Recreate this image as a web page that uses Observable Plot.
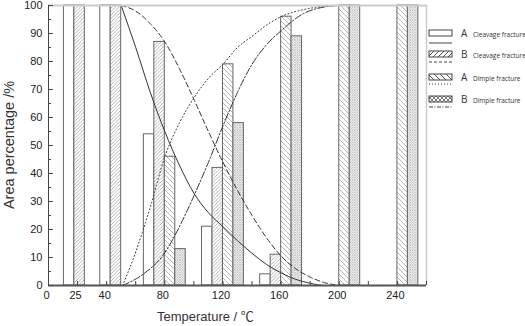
<!DOCTYPE html>
<html><head><meta charset="utf-8">
<script src="https://cdn.jsdelivr.net/npm/d3@7"></script>
<script src="https://cdn.jsdelivr.net/npm/@observablehq/plot@0.6"></script>
<style>body{margin:0;background:#fff;} svg{display:block;}</style>
</head><body><div id="chart"></div>
<script>
// ---- data ----
const temps = [25, 50, 80, 120, 160, 200, 240];
const cleavageA = [100, 100, 54, 21, 4, 0, 0];
const cleavageB = [100, 100, 87, 42, 11, 0, 0];
const dimpleA   = [0, 0, 46, 79, 96, 100, 100];
const dimpleB   = [0, 0, 13, 58, 89, 100, 100];

// fitted curves
const curveCleavageA_T = [50, 60, 70, 80, 90, 100, 110, 120, 130, 140, 150, 160, 170, 180, 190, 200];
const curveCleavageA_V = [100, 85, 69, 55, 43, 33, 26, 21, 16, 11.5, 7.5, 4.5, 2.2, 0.8, 0, 0];
const curveCleavageB_T = [50, 60, 70, 80, 90, 100, 110, 120, 130, 140, 150, 160, 170, 180, 190, 200];
const curveCleavageB_V = [100, 98, 93.5, 87, 77.5, 66.5, 55, 44, 34, 25, 17, 10.5, 6, 3, 1, 0];
const curveDimpleA_T = [51, 60, 70, 80, 90, 100, 110, 120, 130, 140, 150, 160, 175, 190, 200, 240];
const curveDimpleA_V = [0, 12, 28, 46, 58, 67, 74, 79, 85, 89, 93, 96, 98.5, 99.7, 100, 100];
const curveDimpleB_T = [51, 65, 79, 91, 100, 110, 120, 130, 140, 150, 160, 175, 190, 200];
const curveDimpleB_V = [0, 4, 11, 22, 32, 44, 57, 69, 79, 86, 91, 97, 99.5, 100];

const yTicks = [0, 10, 20, 30, 40, 50, 60, 70, 80, 90, 100];
const yMinorTicks = [5, 15, 25, 35, 45, 55, 65, 75, 85, 95];
const xTicks = [0, 20, 40, 60, 80, 100, 120, 140, 160, 180, 200, 220, 240, 260];
const xLabelPos = [0, 20, 40, 80, 120, 160, 200, 240];
const xLabelText = ["0", "25", "40", "80", "120", "160", "200", "240"];

const seriesNames = ["A", "B", "A", "B"];
const seriesTypes = ["Cleavage fracture", "Cleavage fracture", "Dimple fracture", "Dimple fracture"];

// ---- layout ----
const W = 525, H = 326, mL = 48, mR = 99, mT = 5, mB = 41;
const barW = 7.2; // bar width in temperature units
const pxX = 260 / (W - mL - mR), pxY = 100 / (H - mT - mB);

const seriesVals = [cleavageA, cleavageB, dimpleA, dimpleB];
const fills = ["#fff", "url(#patB)", "url(#patC)", "url(#patD)"];
const rowsFor = (i) => temps.map((t, k) => ({t, v: seriesVals[i][k], x1: t + (i - 2) * barW, x2: t + (i - 1) * barW}));
const pts = (T, V) => T.map((t, k) => ({t, v: V[k]}));
const dashes = [null, "5,3", "1,2.5", "7,2,1.5,2"];
const curves = [pts(curveCleavageA_T, curveCleavageA_V), pts(curveCleavageB_T, curveCleavageB_V), pts(curveDimpleA_T, curveDimpleA_V), pts(curveDimpleB_T, curveDimpleB_V)];

const marks = [];
for (let i = 0; i < 4; i++) {
  marks.push(Plot.rectY(rowsFor(i).filter(d => d.v > 0), {x1: "x1", x2: "x2", y1: 0, y2: "v", fill: fills[i], stroke: "#666", strokeWidth: 1}));
}
for (let i = 0; i < 4; i++) {
  marks.push(Plot.line(curves[i], {x: "t", y: "v", curve: "monotone-x", stroke: "#333", strokeWidth: 1, strokeDasharray: dashes[i]}));
}
// frame
marks.push(Plot.ruleY([100], {stroke: "#ccc", strokeWidth: 2}));
marks.push(Plot.ruleX([260], {stroke: "#ccc", strokeWidth: 1.5}));
marks.push(Plot.ruleX([0], {stroke: "#444", strokeWidth: 1}));
marks.push(Plot.ruleY([0], {stroke: "#555", strokeWidth: 2}));
// ticks (inward)
marks.push(Plot.ruleY(yTicks, {y: d => d, x1: 0, x2: 5 * pxX, stroke: "#444"}));
marks.push(Plot.ruleY(yMinorTicks, {y: d => d, x1: 0, x2: 3 * pxX, stroke: "#444"}));
marks.push(Plot.ruleX(xTicks, {x: d => d, y1: 0, y2: 4 * pxY, stroke: "#444"}));
// tick labels
marks.push(Plot.axisY(yTicks, {tickSize: 0, tickPadding: 6, label: null, fontSize: 11, fill: "#222"}));
marks.push(Plot.axisX(xLabelPos, {tickSize: 0, tickPadding: 6, label: null, fontSize: 11, fill: "#222",
  tickFormat: d => xLabelText[xLabelPos.indexOf(d)], dx: -2}));

const chart = Plot.plot({
  width: W, height: H, marginLeft: mL, marginRight: mR, marginTop: mT, marginBottom: mB,
  x: {domain: [0, 260]}, y: {domain: [0, 100]},
  style: {fontFamily: "'Liberation Sans', Arial, sans-serif", background: "#fff", overflow: "visible"},
  marks
});

const svg = d3.select(chart);
const defs = svg.insert("defs", ":first-child");
function hatch(id, size, d, sw, col) {
  const p = defs.append("pattern").attr("id", id).attr("patternUnits", "userSpaceOnUse").attr("width", size).attr("height", size);
  p.append("rect").attr("width", size).attr("height", size).attr("fill", "#fff");
  p.append("path").attr("d", d).attr("stroke", col).attr("stroke-width", sw).attr("fill", "none");
}
hatch("patB", 3.5, "M-1,1 l2,-2 M0,3.5 l3.5,-3.5 M2.5,4.5 l2,-2", 0.7, "#999");
hatch("patC", 5, "M-1,4 l2,2 M0,0 l5,5 M4,-1 l2,2", 0.7, "#999");
hatch("patD", 2.5, "M0,0 l2.5,2.5 M2.5,0 l-2.5,2.5", 0.6, "#aaa");
hatch("patBL", 5, "M-1,1 l2,-2 M0,5 l5,-5 M4,6 l2,-2", 1, "#555");
hatch("patCL", 6, "M-1,5 l2,2 M0,0 l6,6 M5,-1 l2,2", 1, "#555");
hatch("patDL", 4, "M0,0 l4,4 M4,0 l-4,4", 0.8, "#555");

// axis titles
svg.append("text").attr("transform", "translate(14,145) rotate(-90)").attr("text-anchor", "middle")
  .attr("font-size", 14.5).attr("fill", "#333").attr("font-family", "'Liberation Sans', Arial, sans-serif").text("Area percentage /%");
svg.append("text").attr("x", 157).attr("y", 321).attr("text-anchor", "start").attr("font-size", 13).attr("fill", "#333")
  .attr("font-family", "'Liberation Sans', Arial, 'Noto Sans CJK SC', sans-serif").attr("xml:space", "preserve")
  .text("Temperature / ℃");

// legend
const lg = svg.append("g").attr("font-family", "'Open Sans', 'Noto Sans', sans-serif").attr("fill", "#333").attr("text-anchor", "start");
const legY = [30, 51, 74, 96];
const legLineY = [43, 62, 84, 107];
const legFills = ["#fff", "url(#patBL)", "url(#patCL)", "url(#patDL)"];
for (let i = 0; i < 4; i++) {
  lg.append("rect").attr("x", 429).attr("y", legY[i]).attr("width", 23).attr("height", 6)
    .attr("fill", legFills[i]).attr("stroke", "#444").attr("stroke-width", 1);
  const ln = lg.append("line").attr("x1", 429).attr("x2", 452).attr("y1", legLineY[i]).attr("y2", legLineY[i])
    .attr("stroke", "#444").attr("stroke-width", 1);
  if (dashes[i]) ln.attr("stroke-dasharray", i === 2 ? "1,2" : i === 1 ? "3,2" : "4,1.5,1,1.5");
  lg.append("text").attr("x", 461).attr("y", legY[i] + 7).attr("font-size", 10).text(seriesNames[i]);
  lg.append("text").attr("x", 473).attr("y", legY[i] + 6.5).attr("font-size", 6.5).text(seriesTypes[i]);
}
document.getElementById("chart").append(chart);
</script></body></html>
